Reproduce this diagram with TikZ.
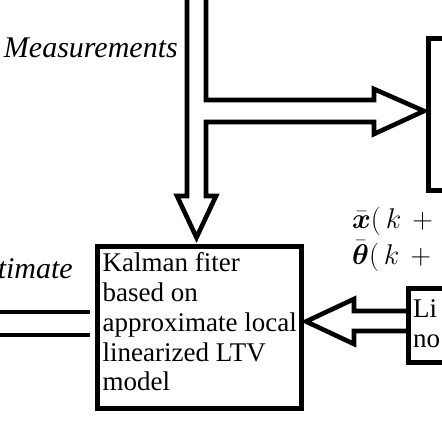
\documentclass[tikz,border=0pt]{standalone}
\usepackage{fix-cm}
\usepackage{amsmath}
\usepackage{amssymb}
\usepackage{fontspec}
\setmainfont{Liberation Serif}
\usetikzlibrary{calc,positioning}

\begin{document}
\begin{tikzpicture}[x=1pt, y=-1pt,
    blk/.style={draw, line width=5pt, inner sep=0pt, outer sep=0pt, anchor=north west},
    hollow/.style={line width=4.6pt, line join=miter, miter limit=10},
    lbl/.style={font=\fontsize{30}{32}\selectfont\itshape, inner sep=0pt},
    txt/.style={font=\fontsize{27}{29.75}\selectfont, align=left, inner sep=0pt, anchor=north west},
    mth/.style={font=\fontsize{28.5}{36}\selectfont, align=left, inner sep=0pt, anchor=north west}
  ]
  \useasboundingbox (0,0) rectangle (442,442);

  % blocks
  \node[blk, minimum width=204pt, minimum height=162pt] (kalman) at (97.5,246.5) {};
  \node[txt] (kftext) at (102.5,252.6) {Kalman fiter\\based on\\approximate local\\linearized LTV\\model};
  \node[blk, minimum width=60pt, minimum height=152pt] (plant) at (428,38) {};
  \node[blk, minimum width=60pt, minimum height=74pt] (lin) at (408,288) {};
  \node[txt] (lintext) at (413,299.6) {Li\\no};

  % labels
  \node[lbl, anchor=base east] (meas) at (178,57) {Measurements};
  \node[lbl, anchor=base east] (est) at (73,278) {timate};
  \node[mth] (state) at (352,206.6) {$\bar{\boldsymbol{x}}(\,k\,+{}$\\$\bar{\boldsymbol{\theta}}(\,k\,+{}$};

  % hollow arrow: measurements down to the filter and right to the plant
  \coordinate (mtip) at ($(kalman.north west)+(99,-9)$);
  \coordinate (ptip) at ($(plant.west)+(-4,-3)$);
  \draw[hollow] (187,0) -- (187,196) -- (177,196) -- (mtip) -- (216,196)
    -- (206,196) -- (206,122) -- (374,122) -- (374,134) -- (ptip)
    -- (374,89) -- (374,100) -- (206,100) -- (206,0);

  % hollow arrow: linearized model to the filter
  \coordinate (ktip) at ($(kalman.east)+(4.5,-6)$);
  \draw[hollow] ($(lin.west)+(0,-14)$) -- (354,311) -- (354,299) -- (ktip)
    -- (354,344) -- (354,331) -- ($(lin.west)+(0,6)$);

  % estimate output
  \draw[hollow] (0,312) -- ($(kalman.west)+(-7.5,-15.5)$);
  \draw[hollow] (0,335) -- ($(kalman.west)+(-7.5,7.5)$);
\end{tikzpicture}
\end{document}
